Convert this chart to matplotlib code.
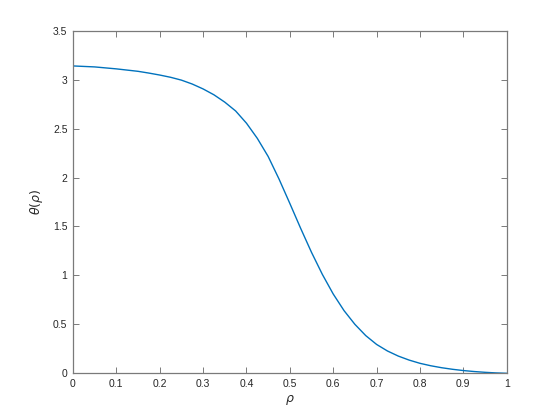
import matplotlib
matplotlib.use("Agg")
import matplotlib.pyplot as plt

rho = [0.0, 0.05, 0.1, 0.15, 0.175, 0.2, 0.225, 0.25, 0.275, 0.3, 0.325, 0.35, 0.375,
       0.4, 0.425, 0.45, 0.475, 0.5, 0.525, 0.55, 0.575, 0.6, 0.625, 0.65, 0.675,
       0.7, 0.725, 0.75, 0.775, 0.8, 0.825, 0.85, 0.875, 0.9, 0.925, 0.95, 0.975, 1.0]
theta = [3.14, 3.13, 3.11, 3.085, 3.067, 3.047, 3.024, 2.995, 2.955, 2.905, 2.845, 2.77, 2.68,
         2.555, 2.40, 2.215, 1.985, 1.735, 1.48, 1.235, 1.01, 0.81, 0.64, 0.50, 0.385,
         0.295, 0.228, 0.176, 0.135, 0.102, 0.077, 0.057, 0.041, 0.028, 0.018, 0.010, 0.004, 0.0]

xticks = [0, 0.1, 0.2, 0.3, 0.4, 0.5, 0.6, 0.7, 0.8, 0.9, 1]
xticklabels = ["0", "0.1", "0.2", "0.3", "0.4", "0.5", "0.6", "0.7", "0.8", "0.9", "1"]
yticks = [0, 0.5, 1, 1.5, 2, 2.5, 3, 3.5]
yticklabels = ["0", "0.5", "1", "1.5", "2", "2.5", "3", "3.5"]

plt.rcParams['font.family'] = ['Liberation Sans', 'DejaVu Sans']
fig = plt.figure(figsize=(5.6, 4.2), dpi=100)
ax = fig.add_axes([73/560, 1 - 373.3/420, (506.7 - 73)/560, (373.3 - 30.7)/420])
ax.plot(rho, theta, color='#0072BD', lw=1.0)
ax.set_xlim(0, 1)
ax.set_ylim(0, 3.5)
ax.set_xticks(xticks)
ax.set_xticklabels(xticklabels)
ax.set_yticks(yticks)
ax.set_yticklabels(yticklabels)
ax.tick_params(direction='in', top=True, right=True, length=4, width=0.7,
               colors='#7a7a7a', labelcolor='#262626', labelsize=7.5, pad=4)
for s in ax.spines.values():
    s.set_color('#7a7a7a')
    s.set_linewidth(0.9)
ax.set_xlabel(r'$\rho$', fontsize=9, color='#262626', labelpad=3)
ax.set_ylabel(r'$\theta(\rho)$', fontsize=9, color='#262626', labelpad=6)
fig.savefig('out.png', dpi=100, facecolor='white')
